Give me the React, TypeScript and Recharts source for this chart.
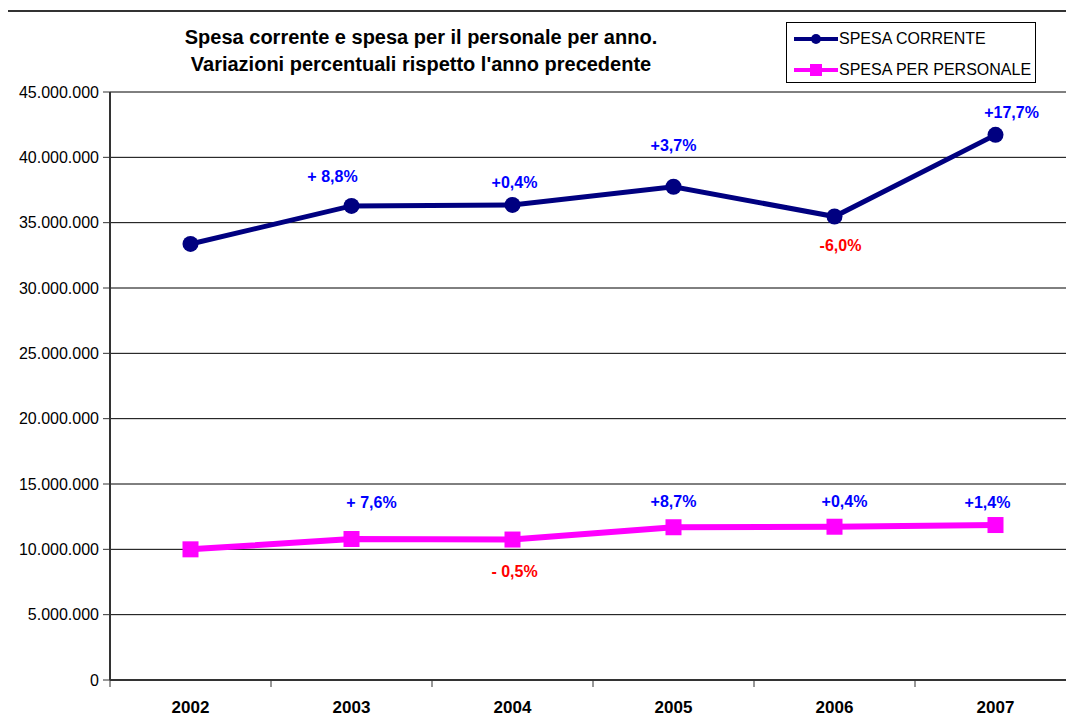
import React from "react";
import {
  LineChart,
  Line,
  XAxis,
  YAxis,
  CartesianGrid,
  LabelList,
} from "recharts";

// values
const years = ["2002", "2003", "2004", "2005", "2006", "2007"];
const spesaCorrente = [33370000, 36280000, 36360000, 37750000, 35470000, 41720000];
const spesaPersonale = [10000000, 10790000, 10750000, 11690000, 11730000, 11860000];
const correntePct = ["", "+ 8,8%", "+0,4%", "+3,7%", "-6,0%", "+17,7%"];
const personalePct = ["", "+ 7,6%", "- 0,5%", "+8,7%", "+0,4%", "+1,4%"];
const yTicks = [0, 5000000, 10000000, 15000000, 20000000, 25000000, 30000000, 35000000, 40000000, 45000000];

// label nudges (Excel labels were moved by hand)
const correnteDx = [0, -19, 2, 0, 6, 16];
const correnteDy = [0, -29, -22, -41, 29, -22];
const personaleDx = [0, 20, 2, 0, 10, -8];
const personaleDy = [0, -37, 32, -26, -25, -23];

const NAVY = "#000080";
const PINK = "#FF00FF";
const FONT = '"Liberation Sans", Arial, Helvetica, sans-serif';

const CHART_W = 1080;
const CHART_H = 726;
const MARGIN = { top: 92, right: 4, bottom: 6, left: 0 };
const Y_AXIS_W = 110;
const HALF_BAND = (CHART_W - MARGIN.left - MARGIN.right - Y_AXIS_W) / years.length / 2;

const data = years.map((year, i) => ({
  year,
  corrente: spesaCorrente[i],
  personale: spesaPersonale[i],
}));

const formatIt = (v: number) => String(v).replace(/\B(?=(\d{3})+(?!\d))/g, ".");

function YearTick(props: any) {
  const { x, y, payload, index } = props;
  return (
    <g>
      <line x1={x - HALF_BAND} y1={y} x2={x - HALF_BAND} y2={y + 7} stroke="#333" />
      {index === years.length - 1 && (
        <line x1={x + HALF_BAND} y1={y} x2={x + HALF_BAND} y2={y + 7} stroke="#333" />
      )}
      <text
        x={x}
        y={y + 33}
        textAnchor="middle"
        fontFamily={FONT}
        fontSize={17}
        fontWeight="bold"
        fill="#000"
      >
        {payload.value}
      </text>
    </g>
  );
}

const pctLabel = (texts: string[], dx: number[], dy: number[]) => (props: any) => {
  const { x, y, index } = props;
  const t = texts[index];
  if (!t) return null;
  return (
    <text
      x={x + dx[index]}
      y={y + dy[index]}
      textAnchor="middle"
      dominantBaseline="central"
      fontFamily={FONT}
      fontSize={16}
      fontWeight="bold"
      fill={t.startsWith("-") ? "#FF0000" : "#0000FF"}
    >
      {t}
    </text>
  );
};

const SquareDot = (props: any) => {
  const { cx, cy, index } = props;
  return <rect key={index} x={cx - 8} y={cy - 8} width={16} height={16} fill={PINK} />;
};

const RoundDot = (props: any) => {
  const { cx, cy, index } = props;
  return <circle key={index} cx={cx} cy={cy} r={8} fill={NAVY} />;
};

export default function App() {
  return (
    <div
      style={{
        position: "relative",
        width: 1074,
        height: 726,
        margin: -8,
        overflow: "hidden",
        background: "#fff",
        fontFamily: FONT,
      }}
    >
      <div
        style={{
          position: "absolute",
          left: 6,
          top: 10,
          width: 2000,
          height: 2000,
          border: "2px solid #333",
        }}
      />
      <div style={{ position: "absolute", left: 0, top: 0 }}>
        <LineChart width={CHART_W} height={CHART_H} data={data} margin={MARGIN}>
          <CartesianGrid vertical={false} stroke="#000" strokeWidth={1} />
          <XAxis
            dataKey="year"
            interval={0}
            height={40}
            padding={{ left: HALF_BAND, right: HALF_BAND }}
            tickSize={0}
            tickMargin={0}
            tickLine={false}
            axisLine={{ stroke: "#333", strokeWidth: 2 }}
            tick={<YearTick />}
          />
          <YAxis
            width={Y_AXIS_W}
            domain={[0, 45000000]}
            ticks={yTicks}
            interval={0}
            tickSize={7}
            tickMargin={4}
            tickFormatter={formatIt}
            tick={{ fontSize: 16, fill: "#000", fontFamily: FONT }}
            axisLine={{ stroke: "#333", strokeWidth: 2 }}
            tickLine={{ stroke: "#333" }}
          />
          <Line
            type="linear"
            dataKey="corrente"
            name="SPESA CORRENTE"
            stroke={NAVY}
            strokeWidth={5}
            dot={<RoundDot />}
            activeDot={false}
            isAnimationActive={false}
          >
            <LabelList dataKey="corrente" content={pctLabel(correntePct, correnteDx, correnteDy)} />
          </Line>
          <Line
            type="linear"
            dataKey="personale"
            name="SPESA PER PERSONALE"
            stroke={PINK}
            strokeWidth={6}
            dot={<SquareDot />}
            activeDot={false}
            isAnimationActive={false}
          >
            <LabelList dataKey="personale" content={pctLabel(personalePct, personaleDx, personaleDy)} />
          </Line>
        </LineChart>
      </div>
      <div
        style={{
          position: "absolute",
          left: 0,
          top: 24,
          width: 842,
          textAlign: "center",
          fontSize: 20,
          fontWeight: "bold",
          lineHeight: "27px",
          color: "#000",
        }}
      >
        Spesa corrente e spesa per il personale per anno.
        <br />
        Variazioni percentuali rispetto l'anno precedente
      </div>
      <div
        style={{
          position: "absolute",
          left: 786,
          top: 22,
          width: 248,
          height: 59,
          border: "1px solid #000",
          background: "#fff",
          fontSize: 16,
          color: "#000",
        }}
      >
        {[
          { name: "SPESA CORRENTE", color: NAVY, shape: "circle" },
          { name: "SPESA PER PERSONALE", color: PINK, shape: "square" },
        ].map((s, i) => (
          <div
            key={s.name}
            style={{
              position: "absolute",
              left: 6,
              top: 4 + i * 31,
              height: 24,
              display: "flex",
              alignItems: "center",
              whiteSpace: "nowrap",
            }}
          >
            <svg width={46} height={24} style={{ display: "block" }}>
              <line x1={1} y1={12} x2={45} y2={12} stroke={s.color} strokeWidth={4} />
              {s.shape === "circle" ? (
                <circle cx={23} cy={12} r={5} fill={s.color} />
              ) : (
                <rect x={17} y={6} width={12} height={12} fill={s.color} />
              )}
            </svg>
            <span>{s.name}</span>
          </div>
        ))}
      </div>
    </div>
  );
}
